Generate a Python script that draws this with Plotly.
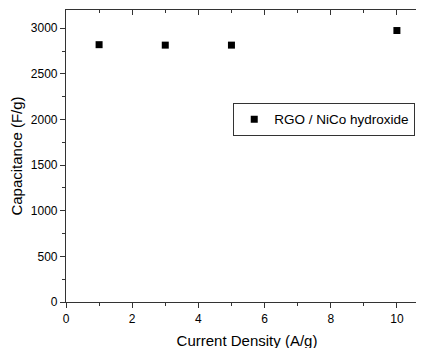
import plotly.graph_objects as go

current_density = [1, 3, 5, 10]
capacitance = [2820, 2815, 2815, 2975]
series_name = "RGO / NiCo hydroxide"
x_ticks = [0, 2, 4, 6, 8, 10]
y_ticks = [0, 500, 1000, 1500, 2000, 2500, 3000]

font_family = "Liberation Sans, Arial, sans-serif"
axis_color = "#333333"

fig = go.Figure()
fig.add_trace(go.Scatter(
    x=current_density, y=capacitance, mode="markers", name=series_name,
    marker=dict(symbol="square", size=7, color="black"),
))
# invisible trace on top axis for inward mirror ticks
fig.add_trace(go.Scatter(x=[], y=[], xaxis="x2", showlegend=False, hoverinfo="skip"))

x_range = [0, 10.94]

fig.update_layout(
    width=424, height=348,
    margin=dict(l=58, r=4, t=2, b=54),
    paper_bgcolor="white", plot_bgcolor="white",
    font=dict(family=font_family, size=12, color="black"),
    showlegend=True,
    legend=dict(
        x=0.462, y=0.682, xanchor="left", yanchor="top",
        bordercolor=axis_color, borderwidth=1, bgcolor="white",
        font=dict(size=13.5, family=font_family), itemwidth=30,
    ),
    xaxis=dict(
        range=x_range, tickvals=x_ticks,
        showline=True, linecolor=axis_color, linewidth=1.2,
        ticks="outside", ticklen=5, tickcolor=axis_color,
        minor=dict(tickvals=[1, 3, 5, 7, 9], ticks="outside", ticklen=3, tickcolor=axis_color),
        showgrid=False, zeroline=False,
        title=dict(text="Current Density (A/g)", font=dict(size=15), standoff=10),
        tickfont=dict(size=12),
    ),
    xaxis2=dict(
        overlaying="x", side="top", matches="x", range=x_range,
        tickvals=x_ticks, showticklabels=False,
        showline=True, linecolor=axis_color, linewidth=1.2,
        ticks="inside", ticklen=5, tickcolor=axis_color,
        minor=dict(tickvals=[1, 3, 5, 7, 9], ticks="inside", ticklen=3, tickcolor=axis_color),
        showgrid=False, zeroline=False,
    ),
    yaxis=dict(
        range=[0, 3200], tickvals=y_ticks,
        showline=True, linecolor=axis_color, linewidth=1.2,
        ticks="outside", ticklen=5, tickcolor=axis_color,
        minor=dict(tickvals=[250, 750, 1250, 1750, 2250, 2750], ticks="outside", ticklen=3, tickcolor=axis_color),
        showgrid=False, zeroline=False,
        title=dict(text="Capacitance (F/g)", font=dict(size=15), standoff=5),
        tickfont=dict(size=12),
    ),
)

fig.write_html("out.html")
